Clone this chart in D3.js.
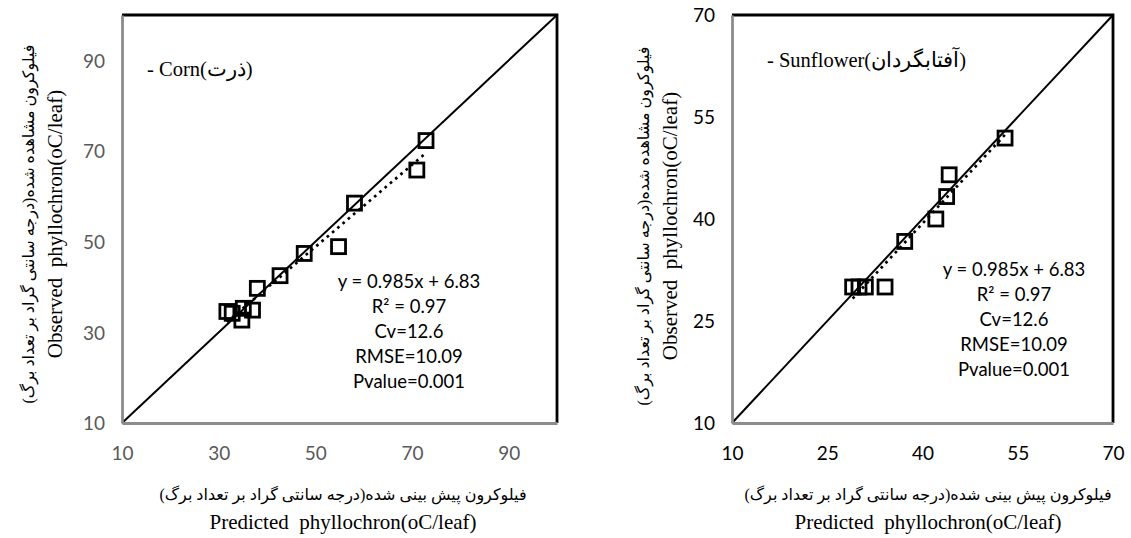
<!DOCTYPE html>
<html lang="en">
<head>
  <meta charset="UTF-8">
  <title>Observed vs predicted phyllochron</title>
  <script src="https://d3js.org/d3.v7.min.js"></script>
  <style>
    body { margin: 0; background: #fff; }
    .tick text { font-family: Lato, "Open Sans", sans-serif; font-size: 19px; }
    .title { font-family: "Liberation Serif", "DejaVu Serif", serif; font-size: 21px; fill: #000; }
    .fa { font-family: "Liberation Serif", "DejaVu Sans", serif; font-size: 16px; fill: #000; }
    .stats { font-family: Lato, "Open Sans", sans-serif; font-size: 18.5px; fill: #000; }
    .diag { stroke: #000; stroke-width: 2; }
    .trend { stroke: #000; stroke-width: 2.7; stroke-dasharray: 2.7 4.2; }
    .pt { fill: none; stroke: #000; stroke-width: 2.8; }
  </style>
</head>
<body>
<svg id="chart" width="1131" height="538"></svg>
<script>
  // corn (left panel)
  const cornPredicted = [72.9, 71.0, 58.1, 54.8, 47.7, 42.7, 38.0, 31.7, 32.8, 35.1, 37.0, 34.8];
  const cornObserved  = [72.3, 65.8, 58.5, 48.9, 47.4, 42.5, 39.7, 34.6, 34.2, 35.3, 34.9, 32.7];
  const cornTicks = [10, 30, 50, 70, 90];

  // sunflower (right panel)
  const sunPredicted = [53.0, 44.2, 43.8, 42.1, 37.2, 29.0, 30.0, 31.0, 34.1];
  const sunObserved  = [51.9, 46.5, 43.3, 40.0, 36.7, 30.0, 30.0, 30.0, 30.0];
  const sunTicks = [10, 25, 40, 55, 70];

  const statLines = ["y = 0.985x + 6.83", "R² = 0.97", "Cv=12.6", "RMSE=10.09", "Pvalue=0.001"];

  const svg = d3.select("#chart");

  // least squares line, like the excel trendline
  function fit(xs, ys) {
    const mx = d3.mean(xs), my = d3.mean(ys);
    let sxy = 0, sxx = 0;
    xs.forEach((x, i) => { sxy += (x - mx) * (ys[i] - my); sxx += (x - mx) * (x - mx); });
    const b = sxy / sxx;
    return { b: b, a: my - b * mx };
  }

  function panel(opt) {
    const x = d3.scaleLinear().domain(opt.domain).range([opt.left, opt.right]);
    const y = d3.scaleLinear().domain(opt.domain).range([opt.bottom, opt.top]);
    const g = svg.append("g");

    // 1:1 line
    g.append("line").attr("class", "diag")
      .attr("x1", x(opt.domain[0])).attr("y1", y(opt.domain[0]))
      .attr("x2", x(opt.domain[1])).attr("y2", y(opt.domain[1]));

    // dotted trendline
    const f = fit(opt.pred, opt.obs);
    const x0 = d3.min(opt.pred), x1 = d3.max(opt.pred);
    g.append("line").attr("class", "trend")
      .attr("x1", x(x0)).attr("y1", y(f.a + f.b * x0))
      .attr("x2", x(x1)).attr("y2", y(f.a + f.b * x1));

    // square markers
    const s = 14;
    g.selectAll("rect.pt").data(opt.pred)
      .join("rect").attr("class", "pt")
      .attr("x", d => x(d) - s / 2)
      .attr("y", (d, i) => y(opt.obs[i]) - s / 2)
      .attr("width", s).attr("height", s);

    // frame: top and right black
    g.append("path")
      .attr("d", `M${opt.left},${opt.top}H${opt.right}V${opt.bottom}`)
      .attr("fill", "none").attr("stroke", "#000").attr("stroke-width", 2.8);

    // axes (grey domain lines, no tick marks)
    const xa = g.append("g").attr("transform", `translate(0,${opt.bottom})`)
      .call(d3.axisBottom(x).tickValues(opt.ticks).tickSize(0).tickSizeOuter(0).tickPadding(24));
    const ya = g.append("g").attr("transform", `translate(${opt.left},0)`)
      .call(d3.axisLeft(y).tickValues(opt.ticks).tickSize(0).tickSizeOuter(0).tickPadding(17));
    [xa, ya].forEach(a => {
      a.select(".domain").attr("stroke", "#8c8c8c").attr("stroke-width", 2.8);
      a.selectAll(".tick text").attr("fill", opt.tickColor);
    });
    xa.selectAll(".tick text").attr("dy", "0.71em");
    ya.selectAll(".tick text").attr("dy", "0.36em");

    // crop label
    g.append("text").attr("class", "title")
      .attr("x", opt.labelX).attr("y", opt.labelY)
      .attr("dominant-baseline", "middle")
      .style("font-size", "20.5px")
      .attr("fill", opt.labelColor)
      .text(opt.label);

    // statistics
    g.append("g").selectAll("text").data(statLines)
      .join("text").attr("class", "stats")
      .attr("x", opt.statX)
      .attr("y", (d, i) => opt.statY + i * 25)
      .attr("text-anchor", "middle")
      .attr("dominant-baseline", "middle")
      .text(d => d);

    // x titles
    g.append("text").attr("class", "fa")
      .attr("x", opt.xTitleX).attr("y", 496)
      .attr("text-anchor", "middle").attr("dominant-baseline", "middle")
      .text("فیلوکرون پیش بینی شده(درجه سانتی گراد بر تعداد برگ)");
    g.append("text").attr("class", "title")
      .attr("x", opt.xTitleX).attr("y", 524)
      .attr("text-anchor", "middle").attr("dominant-baseline", "middle")
      .attr("xml:space", "preserve")
      .text("Predicted  phyllochron(oC/leaf)");

    // y titles
    g.append("text").attr("class", "fa")
      .attr("transform", `translate(${opt.yTitleX - 27},${opt.yTitleY})rotate(-90)`)
      .attr("text-anchor", "middle").attr("dominant-baseline", "middle")
      .text("فیلوکرون مشاهده شده(درجه سانتی گراد بر تعداد برگ)");
    g.append("text").attr("class", "title")
      .attr("transform", `translate(${opt.yTitleX},${opt.yTitleY})rotate(-90)`)
      .attr("text-anchor", "middle").attr("dominant-baseline", "middle")
      .attr("xml:space", "preserve")
      .text("Observed  phyllochron(oC/leaf)");
  }

  panel({
    left: 122, right: 557, top: 15, bottom: 423,
    domain: [10, 100], ticks: cornTicks,
    pred: cornPredicted, obs: cornObserved,
    tickColor: "#595959",
    label: "- Corn(ذرت)", labelX: 147, labelY: 71, labelColor: "#7f7f7f",
    statX: 409, statY: 283,
    xTitleX: 343, yTitleX: 57, yTitleY: 224
  });

  panel({
    left: 732, right: 1113, top: 15, bottom: 423,
    domain: [10, 70], ticks: sunTicks,
    pred: sunPredicted, obs: sunObserved,
    tickColor: "#000",
    label: "- Sunflower(آفتابگردان)", labelX: 767, labelY: 62, labelColor: "#000",
    statX: 1014, statY: 271,
    xTitleX: 928, yTitleX: 672, yTitleY: 226
  });
</script>
</body>
</html>
